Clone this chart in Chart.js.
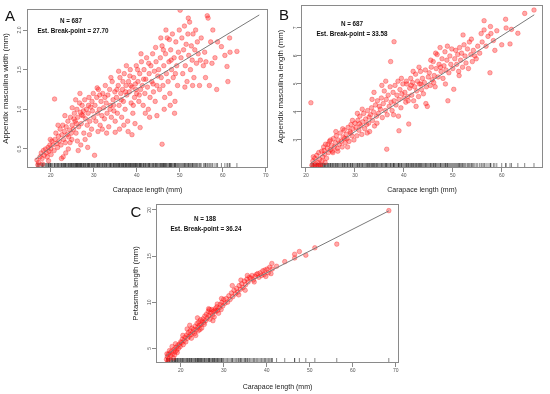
<!DOCTYPE html>
<html>
<head>
<meta charset="utf-8">
<script src="https://cdn.jsdelivr.net/npm/chart.js@4/dist/chart.umd.min.js"></script>
<style>
  body { margin: 0; background: #fff; width: 550px; height: 394px; position: relative; overflow: hidden; }
  canvas { position: absolute; }
  .letter { position: absolute; font-family: 'Liberation Sans', Arial, sans-serif; font-size: 15px; color: #111; transform: translate(-50%, -50%); }
  .note { position: absolute; font-family: 'Liberation Sans', Arial, sans-serif; font-weight: bold; font-size: 6.3px; color: #111; white-space: nowrap; transform: translate(-50%, -50%); }
</style>
</head>
<body>
<canvas id="chartA" width="275" height="200" style="left:0;top:0"></canvas>
<canvas id="chartB" width="275" height="200" style="left:275px;top:0"></canvas>
<canvas id="chartC" width="280" height="199" style="left:130px;top:195px"></canvas>

<div class="letter" style="left:10px;top:15px">A</div>
<div class="letter" style="left:284px;top:14px">B</div>
<div class="letter" style="left:136px;top:211px">C</div>

<div class="note" style="left:71px;top:20px">N = 687</div>
<div class="note" style="left:73px;top:30px">Est. Break-point = 27.70</div>
<div class="note" style="left:352px;top:23px">N = 687</div>
<div class="note" style="left:352px;top:33px">Est. Break-point = 33.58</div>
<div class="note" style="left:205px;top:218px">N = 188</div>
<div class="note" style="left:206px;top:228px">Est. Break-point = 36.24</div>

<script>
// panel A: appendix masculina width vs carapace length
const aPoints = [
  [16.8,0.36],[17.2,0.33],[17.5,0.40],[17.8,0.45],[18.0,0.38],[18.3,0.48],[18.5,0.42],[18.8,0.50],[19.0,0.45],[19.2,0.40],
  [19.4,0.52],[19.6,0.47],[19.8,0.55],[20.0,0.50],[20.1,0.43],[17.0,0.30],[18.1,0.31],[19.5,0.35],[20.3,0.60],[19.9,0.62],
  [20.5,0.55],[20.8,0.48],[21.0,0.62],[21.2,0.70],[21.4,0.57],[21.6,0.52],[21.8,0.66],[22.0,0.60],[22.2,0.75],[22.4,0.55],
  [22.6,0.68],[22.8,0.80],[23.0,0.62],[23.2,0.72],[23.4,0.58],[23.6,0.78],[23.8,0.68],[24.0,0.85],[24.2,0.65],[24.4,0.74],
  [24.6,0.90],[24.8,0.70],[25.0,0.80],[22.9,0.40],[23.5,0.45],[24.1,0.50],[21.7,0.80],[25.0,1.02],[23.3,0.92],[22.5,0.38],
  [24.5,0.58],[24.9,0.62],[20.9,1.13],
  [25.3,0.75],[25.5,0.95],[25.7,0.85],[25.9,0.70],[26.1,1.00],[26.3,0.90],[26.5,0.78],[26.7,1.08],[26.9,0.96],[27.1,0.82],
  [27.3,1.05],[27.5,0.92],[27.7,0.70],[27.9,1.12],[28.1,0.88],[28.3,1.00],[28.5,0.80],[28.7,0.95],[28.9,1.15],[29.1,0.85],
  [29.3,1.03],[29.5,0.75],[29.7,0.98],[29.9,1.20],[30.0,0.90],[26.2,0.60],[26.4,0.48],[27.0,0.55],[28.0,0.62],[28.6,0.52],
  [30.2,0.42],[25.8,1.12],[26.8,1.20],[29.0,0.68],[27.6,0.98],[25.4,0.88],[28.8,1.05],[26.0,0.82],[29.6,1.10],[27.2,0.93],
  [30.3,1.05],[30.5,0.85],[30.7,1.15],[30.9,0.95],[31.1,1.25],[31.3,1.00],[31.5,0.80],[31.7,1.10],[31.9,0.92],[32.1,1.20],
  [32.3,1.02],[32.5,0.88],[32.7,1.30],[32.9,1.08],[33.1,0.95],[33.3,1.18],[33.5,0.78],[33.7,1.25],[33.9,1.05],[34.1,0.90],
  [34.3,1.35],[34.5,1.12],[34.7,0.98],[34.9,1.22],[35.0,0.85],[31.0,0.72],[32.0,0.75],[33.0,0.70],[34.0,1.40],[30.8,1.27],
  [32.6,1.15],[33.8,1.00],[31.4,1.18],[34.6,1.05],[35.0,0.71],
  [35.3,1.15],[35.5,0.95],[35.7,1.30],[35.9,1.05],[36.1,1.40],[36.3,1.20],[36.5,0.90],[36.7,1.25],[36.9,1.10],[37.1,1.45],
  [37.3,1.00],[37.5,1.30],[37.7,1.18],[37.9,0.85],[38.1,1.35],[38.3,1.22],[38.5,1.50],[38.7,1.08],[38.9,1.28],[39.1,0.95],
  [39.3,1.40],[39.5,1.15],[39.7,1.32],[39.9,1.55],[40.0,1.20],[36.0,0.75],[37.0,0.80],[38.0,0.72],[38.9,0.68],[39.6,0.82],
  [35.8,1.48],[36.8,1.35],[37.6,1.55],[38.4,1.42],[39.2,1.05],[35.4,1.25],[36.4,1.12],[37.4,1.22],[38.6,1.30],[39.8,1.25],
  [40.3,1.35],[40.5,1.10],[40.7,1.45],[40.9,1.25],[41.1,1.60],[41.3,1.30],[41.5,1.05],[41.7,1.50],[41.9,1.20],[42.1,1.38],
  [42.3,1.65],[42.5,1.28],[42.7,1.00],[42.9,1.45],[43.1,1.15],[43.3,1.55],[43.5,1.35],[43.7,1.70],[43.9,1.22],[44.1,1.48],
  [44.3,1.10],[44.5,1.60],[44.7,1.30],[44.9,1.42],[40.8,0.77],[41.0,1.70],[42.0,0.95],[43.0,0.90],[44.7,0.92],[40.2,1.50],
  [41.6,1.38],[42.8,1.58],[43.8,1.32],[44.4,1.78],[40.6,1.18],
  [45.1,1.50],[45.3,1.25],[45.5,1.65],[45.7,1.40],[45.9,1.80],[46.1,1.30],[46.3,1.55],[46.5,1.15],[46.7,1.70],[46.9,1.45],
  [47.1,1.90],[47.3,1.35],[47.5,1.60],[47.7,1.20],[47.9,1.75],[48.1,1.50],[48.3,1.95],[48.5,1.40],[48.7,1.65],[48.9,1.10],
  [49.1,1.85],[49.3,1.55],[49.5,1.30],[49.7,1.72],[49.9,2.00],[45.9,0.56],[46.4,1.00],[47.8,1.05],[48.8,0.95],[45.6,1.90],
  [46.8,2.00],[47.6,1.88],[49.0,1.45],[48.0,1.62],[46.2,1.75],
  [50.1,2.25],[50.3,1.65],[50.5,1.90],[50.7,1.45],[50.9,1.75],[51.1,2.05],[51.3,1.55],[51.5,1.82],[51.7,1.35],[51.9,1.95],
  [52.1,1.68],[52.3,2.10],[52.5,1.50],[52.7,1.80],[52.9,1.62],[53.1,1.95],[53.3,1.40],[53.5,1.75],[53.7,2.00],[53.9,1.58],
  [54.1,1.85],[54.3,1.70],[54.6,1.30],[54.8,1.62],[55.0,1.90],[51.2,1.28],[53.0,1.30],[52.0,2.15],
  [55.5,1.55],[55.8,1.72],[56.1,1.60],[56.4,2.18],[56.6,2.15],[56.9,1.30],[57.2,1.85],[57.7,2.00],[58.2,1.65],[58.6,1.25],
  [58.8,1.85],[59.7,1.79],[60.5,1.68],[61.0,1.54],[61.2,1.35],[61.6,1.90],[61.7,1.72],[63.3,1.73],[56.0,1.40],[57.5,1.58]
];
const aFitX = [16.5, 27.70, 68.5];
const aFitY = [0.37, 0.85, 2.19];
const aXTicks = [20, 30, 40, 50, 60, 70];
const aYTicks = [0.5, 1.0, 1.5, 2.0];

// panel B: appendix masculina length vs carapace length
const bPoints = [
  [21.2,2.10],[21.4,2.25],[21.6,2.05],[21.8,2.35],[22.0,2.15],[22.2,2.45],[22.4,2.20],[22.6,2.55],[22.8,2.30],[23.0,2.05],
  [23.2,2.60],[23.4,2.40],[23.6,2.75],[23.8,2.50],[24.0,2.85],[24.2,2.35],[24.4,2.70],[24.6,2.55],[24.8,2.95],[25.0,2.65],
  [21.0,4.33],[22.1,2.05],[22.9,2.12],[23.3,2.25],[21.5,2.40],[23.9,2.20],[24.5,2.85],[22.5,2.08],[25.0,3.00],[23.7,2.62],
  [25.2,2.80],[25.4,2.60],[25.6,3.05],[25.8,2.75],[26.0,2.90],[26.2,3.15],[26.4,2.70],[26.6,3.00],[26.8,2.85],[27.0,3.25],
  [27.2,2.95],[27.4,2.75],[27.6,3.10],[27.8,3.35],[28.0,2.90],[28.2,3.20],[28.4,3.05],[28.6,3.45],[28.8,2.95],[29.0,3.30],
  [29.2,3.55],[29.4,3.15],[29.6,3.40],[29.8,3.00],[30.0,3.60],[25.5,2.55],[26.5,2.60],[27.5,3.40],[28.5,2.75],[29.5,3.70],
  [26.1,3.30],[27.9,3.05],[29.1,3.25],
  [30.2,3.45],[30.4,3.15],[30.6,3.70],[30.8,3.35],[31.0,3.85],[31.2,3.50],[31.4,3.20],[31.6,3.65],[31.8,3.95],[32.0,3.40],
  [32.2,3.75],[32.4,3.55],[32.6,4.05],[32.8,3.60],[33.0,3.30],[33.2,3.90],[33.4,4.15],[33.6,3.70],[33.8,4.00],[34.0,3.50],
  [34.2,4.25],[34.4,3.85],[34.6,4.40],[34.8,3.95],[35.0,4.20],[30.5,3.95],[31.5,4.10],[32.5,3.25],[33.5,4.45],[34.5,3.60],
  [33.9,4.70],[30.9,3.58],[32.9,3.82],
  [35.2,4.10],[35.4,4.50],[35.6,3.80],[35.8,4.30],[36.0,4.75],[36.2,4.05],[36.4,4.45],[36.6,3.90],[36.8,4.60],[37.0,4.20],
  [37.2,4.90],[37.4,4.35],[37.6,4.05],[37.8,4.70],[38.0,4.40],[38.2,4.95],[38.4,4.25],[38.6,4.60],[38.8,5.10],[39.0,4.45],
  [39.2,4.80],[39.4,4.15],[39.6,4.65],[39.8,5.00],[40.0,4.50],[36.5,2.67],[39.0,3.33],[37.3,5.80],[38.0,6.51],[35.5,4.95],
  [37.9,3.90],[38.9,3.85],[36.3,5.10],[39.5,5.20],
  [40.2,4.70],[40.4,4.35],[40.6,5.00],[40.8,4.55],[41.0,3.57],[41.2,4.85],[41.4,5.20],[41.6,4.60],[41.8,5.05],[42.0,4.40],
  [42.2,4.90],[42.4,5.35],[42.6,4.75],[42.8,5.10],[43.0,4.55],[43.2,5.00],[43.4,5.45],[43.6,4.80],[43.8,5.20],[44.0,4.65],
  [44.2,5.05],[44.4,5.50],[44.6,4.90],[44.8,4.20],[45.0,5.25],[40.5,5.10],[41.5,4.95],[42.5,4.20],[43.5,5.00],[44.5,4.30],
  [41.9,5.45],[43.1,5.60],[40.9,4.40],
  [45.2,5.40],[45.4,4.95],[45.6,5.60],[45.8,5.15],[46.0,5.80],[46.2,5.30],[46.4,4.90],[46.6,5.55],[46.8,6.05],[47.0,5.25],
  [47.2,5.70],[47.4,6.30],[47.6,5.45],[47.8,5.90],[48.0,5.20],[48.2,5.65],[48.4,6.15],[48.6,5.50],[48.8,5.85],[49.0,4.40],
  [49.2,5.40],[49.4,6.00],[49.6,5.70],[49.8,6.25],[50.0,5.55],[46.5,6.10],[47.5,5.60],[48.5,5.00],[45.5,5.85],[50.2,4.81],
  [46.1,5.05],[48.9,6.35],
  [50.4,5.90],[50.6,6.20],[50.8,5.70],[51.0,6.05],[51.2,5.45],[51.4,6.30],[51.6,5.85],[51.8,6.10],[52.0,5.60],[52.3,6.40],
  [52.5,6.00],[52.7,5.75],[53.0,6.25],[53.2,5.55],[53.4,6.50],[53.7,6.05],[54.0,5.80],[54.2,6.20],[54.5,6.00],[54.8,5.90],
  [55.1,6.35],[55.5,6.10],[52.1,6.75],[53.8,6.60],[51.3,5.30],
  [56.0,6.50],[56.4,7.26],[56.4,6.93],[56.8,6.35],[57.2,6.70],[57.6,5.40],[57.7,7.05],[57.8,6.80],[58.3,6.55],[59.0,6.90],
  [60.0,6.40],[60.8,7.31],[60.9,7.00],[61.7,6.43],[62.0,6.95],[63.3,6.81],[64.7,7.52],[66.6,7.64],[58.6,6.20],[55.8,6.80]
];
const bFitX = [21.0, 33.58, 66.65];
const bFitY = [2.17, 3.75, 7.47];
const bXTicks = [20, 30, 40, 50, 60];
const bYTicks = [3, 4, 5, 6, 7];

// panel C: petasma length vs carapace length
const cPoints = [
  [16.7,3.80],[16.9,4.10],[17.1,4.35],[17.3,3.90],[17.5,4.50],[17.7,4.20],[17.9,4.70],[18.1,4.40],[18.3,3.95],[18.5,4.90],
  [18.7,4.60],[18.9,5.10],[19.1,4.80],[19.3,5.30],[19.5,5.00],[19.7,5.45],[19.9,5.20],[20.0,5.70],[16.8,4.40],[17.4,4.75],
  [18.0,5.20],[18.6,4.30],[19.2,4.55],[17.0,3.60],[18.8,5.50],
  [20.2,5.60],[20.4,6.00],[20.6,5.40],[20.8,5.85],[21.0,6.20],[21.2,5.70],[21.4,6.45],[21.6,6.10],[21.8,6.70],[22.0,6.30],
  [22.2,6.90],[22.4,6.50],[22.6,7.20],[22.8,6.75],[23.0,7.05],[23.2,6.60],[23.4,7.40],[23.6,7.00],[23.8,7.70],[24.0,7.30],
  [24.2,7.85],[24.4,7.50],[24.6,8.10],[24.8,7.60],[25.0,7.95],[21.5,7.10],[22.5,6.10],[23.5,6.40],[24.5,7.05],[20.5,6.40],
  [23.9,8.30],[24.1,6.90],[22.1,7.50],[24.9,7.20],
  [25.2,8.20],[25.4,7.80],[25.6,8.50],[25.8,8.00],[26.0,8.70],[26.2,8.30],[26.4,9.00],[26.6,8.55],[26.8,8.15],[27.0,8.85],
  [27.2,9.20],[27.4,8.60],[27.6,9.00],[27.8,8.40],[28.0,9.30],[28.2,9.00],[28.4,9.50],[28.6,9.10],[28.8,8.80],[29.0,9.40],
  [29.2,9.75],[29.4,9.20],[29.6,10.00],[29.8,9.60],[30.0,10.30],[26.5,9.30],[27.5,8.00],[28.5,9.80],[29.5,10.40],[25.5,7.60],
  [26.7,9.20],[27.9,9.10],
  [30.3,9.90],[30.6,10.40],[30.9,10.00],[31.2,10.70],[31.5,10.30],[31.8,11.00],[32.1,10.60],[32.4,11.30],[32.7,10.90],[33.0,11.50],
  [33.3,11.10],[33.6,11.80],[33.9,11.40],[34.2,12.00],[34.5,11.60],[34.8,12.30],[35.1,11.90],[35.4,12.50],[35.7,12.20],[36.0,12.70],
  [32.0,11.80],[33.5,10.80],[34.0,12.40],[35.0,11.30],[35.5,12.90],
  [36.3,12.60],[36.6,12.90],[36.9,12.40],[37.1,12.20],[37.3,12.80],[37.6,13.00],[37.9,13.10],[38.2,12.70],[38.5,13.20],[38.8,12.90],
  [39.1,13.40],[39.4,13.00],[39.6,13.50],[39.8,12.80],[40.1,13.60],[40.4,13.20],[40.7,13.80],[41.0,13.10],[41.2,14.20],[41.3,13.60],
  [42.3,13.90],
  [44.2,14.40],[46.5,15.20],[46.5,14.80],[47.6,15.50],[49.1,15.10],[51.2,15.90],[56.3,16.30],[68.4,19.93]
];
const cFitX = [16.5, 36.24, 68.4];
const cFitY = [4.09, 12.3, 19.9];
const cXTicks = [20, 30, 40, 50, 60, 70];
const cYTicks = [5, 10, 15, 20];

const tickFont = { family: 'Liberation Sans', size: 5 };
const titleFamily = "'Liberation Sans', Arial, sans-serif";

// box around the plot region and a rug of the x values along its bottom
function boxRug(xs) {
    return {
        id: 'boxRug',
        beforeDatasetsDraw(chart) {
            const { ctx, chartArea: a, scales } = chart;
            ctx.save();
            ctx.strokeStyle = 'rgba(0,0,0,0.8)';
            ctx.lineWidth = 0.6;
            ctx.beginPath();
            xs.forEach(v => {
                const px = scales.x.getPixelForValue(v);
                ctx.moveTo(px, a.bottom - 1);
                ctx.lineTo(px, a.bottom - 5);
            });
            ctx.stroke();
            ctx.restore();
        },
        afterDraw(chart) {
            const { ctx, chartArea: a } = chart;
            ctx.save();
            ctx.strokeStyle = '#8a8a8a';
            ctx.lineWidth = 1;
            ctx.strokeRect(a.left + 0.5, a.top + 0.5, a.right - a.left - 1, a.bottom - a.top - 1);
            ctx.restore();
        }
    };
}

function makePanel(id, pts, fitX, fitY, xTicks, yTicks, yDigits, xr, yr, yTitle, pad, yWidth, xHeight) {
    const ctx = document.getElementById(id).getContext('2d');
    return new Chart(ctx, {
        type: 'scatter',
        data: {
            datasets: [
                {
                    data: fitX.map((x, i) => ({ x: x, y: fitY[i] })),
                    showLine: true,
                    borderColor: '#7a7a7a',
                    borderWidth: 1,
                    pointRadius: 0
                },
                {
                    data: pts.map(p => ({ x: p[0], y: p[1] })),
                    pointRadius: 2.3,
                    backgroundColor: 'rgba(255,40,40,0.4)',
                    borderColor: 'rgba(255,0,0,0.42)',
                    borderWidth: 0.7
                }
            ]
        },
        options: {
            responsive: false,
            animation: false,
            events: [],
            layout: { padding: pad },
            plugins: { legend: { display: false }, tooltip: { enabled: false } },
            scales: {
                x: {
                    type: 'linear',
                    min: xr[0],
                    max: xr[1],
                    afterFit: s => { s.height = xHeight; },
                    afterBuildTicks: s => { s.ticks = xTicks.map(v => ({ value: v })); },
                    ticks: { font: tickFont, color: '#555', padding: 1, autoSkip: false, maxRotation: 0, callback: v => String(v) },
                    grid: { drawOnChartArea: false, drawTicks: true, tickLength: 4, color: '#888' },
                    border: { display: false },
                    title: { display: true, text: 'Carapace length (mm)', color: '#222', padding: 0, font: { family: titleFamily, size: 7 } }
                },
                y: {
                    type: 'linear',
                    min: yr[0],
                    max: yr[1],
                    afterFit: s => { s.width = yWidth; },
                    afterBuildTicks: s => { s.ticks = yTicks.map(v => ({ value: v })); },
                    ticks: { font: tickFont, color: '#555', padding: 0, minRotation: 90, maxRotation: 90, crossAlign: 'center', autoSkip: false, callback: v => v.toFixed(yDigits) },
                    grid: { drawOnChartArea: false, drawTicks: true, tickLength: 4, color: '#888' },
                    border: { display: false },
                    title: { display: true, text: yTitle, color: '#222', padding: { top: 1, bottom: 0 }, font: { family: titleFamily, size: 7.8 } }
                }
            }
        },
        plugins: [boxRug(pts.map(p => p[0]))]
    });
}

makePanel('chartA', aPoints, aFitX, aFitY, aXTicks, aYTicks, 1, [14.49, 70.53], [0.26, 2.265],
    'Appendix masculina width (mm)', { left: 0, top: 9, right: 7, bottom: 6 }, 27, 26);
makePanel('chartB', bPoints, bFitX, bFitY, bXTicks, bYTicks, 0, [18.98, 68.44], [2.0, 7.82],
    'Appendix masculina length (mm)', { left: 0, top: 5, right: 7, bottom: 6 }, 26, 26);
makePanel('chartC', cPoints, cFitX, cFitY, cXTicks, cYTicks, 0, [14.26, 70.77], [3.41, 20.65],
    'Petasma length (mm)', { left: 0, top: 9, right: 11, bottom: 3 }, 26, 28);
</script>
</body>
</html>
